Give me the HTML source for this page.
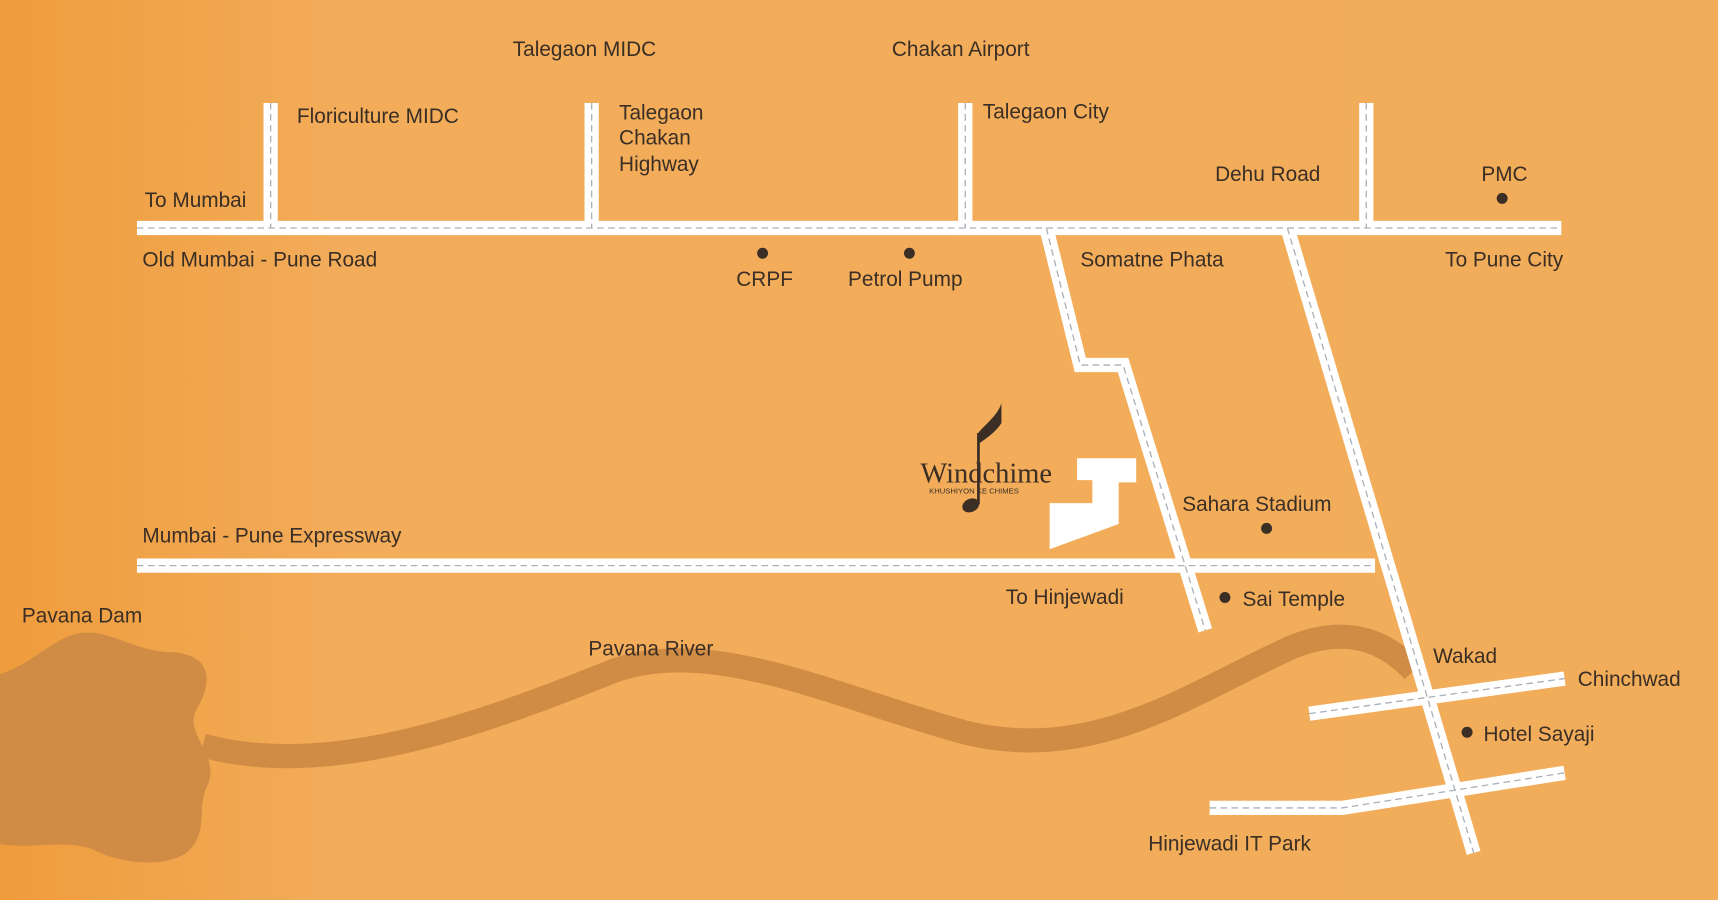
<!DOCTYPE html>
<html><head><meta charset="utf-8"><style>
html,body{margin:0;padding:0;width:1718px;height:900px;overflow:hidden;background:#F2AC5A}
svg{display:block}
text{font-family:"Liberation Sans",sans-serif;font-size:19px;fill:#3a2e25}
</style></head><body>
<svg width="1718" height="900" viewBox="0 0 1568 821" preserveAspectRatio="none">
<defs>
<linearGradient id="bg" x1="0" y1="0" x2="1" y2="0">
<stop offset="0" stop-color="#EF9C3C"/><stop offset="0.2" stop-color="#F2AC5A"/><stop offset="1" stop-color="#F2AD5B"/>
</linearGradient>
</defs>
<rect width="1568" height="821" fill="url(#bg)"/>
<path d="M185,680 C300,712 440,660 560,612 C650,580 760,635 880,668 C1000,698 1090,630 1180,590 C1230,570 1265,585 1290,612" fill="none" stroke="#D08C45" stroke-width="22"/>
<path d="M0,615 C30,605 45,585 70,578 C100,572 120,595 160,595 C200,600 190,630 178,650 C170,670 200,690 190,715 C178,738 192,760 170,778 C150,792 110,788 85,775 C60,765 30,775 0,770 Z" fill="#D08C45"/>
<g fill="none" stroke-linejoin="miter">
<g stroke="#fff" stroke-width="13">
<path d="M125,208 H1425"/>
<path d="M247,94 V208 M540,94 V208 M881,94 V208 M1247,94 V208"/>
<path d="M955,208 L986,333 L1025,333 L1100,575"/>
<path d="M1175,208 L1345,778"/>
<path d="M125,516 H1255"/>
<path d="M1195,651 L1428,619"/>
<path d="M1104,737 L1225,737 L1428,705"/>
</g>
<g stroke="#a9b0b8" stroke-width="1.2" stroke-dasharray="6,4">
<path d="M125,208 H1425"/>
<path d="M247,94 V208 M540,94 V208 M881,94 V208 M1247,94 V208"/>
<path d="M955,208 L986,333 L1025,333 L1100,575"/>
<path d="M1175,208 L1345,778"/>
<path d="M125,516 H1255"/>
<path d="M1195,651 L1428,619"/>
<path d="M1104,737 L1225,737 L1428,705"/>
</g>
</g>
<polygon points="983,418 1037,418 1037,440 1021,440 1021,478 958,501 958,459 997,459 997,438 983,438" fill="#fff"/>
<ellipse cx="886" cy="461" rx="8" ry="6" fill="#3a2e25" transform="rotate(-25 886 461)"/>
<path d="M893,460 V395" stroke="#3a2e25" stroke-width="2.5"/>
<path d="M893,395 C898,388 910,380 914,368 L914,386 C908,395 900,400 893,405 Z" fill="#3a2e25"/>
<text x="840" y="440" style="font-family:'Liberation Serif',serif;font-size:26px">Windchime</text>
<text x="848" y="450" style="font-size:7px">KHUSHIYON  KE CHIMES</text>
<g fill="#3a2e25">
<circle cx="696" cy="231" r="5"/><circle cx="830" cy="231" r="5"/><circle cx="1371" cy="181" r="5"/>
<circle cx="1156" cy="482" r="5"/><circle cx="1118" cy="545" r="5"/><circle cx="1339" cy="668" r="5"/>
</g>
<text x="468" y="51">Talegaon MIDC</text>
<text x="814" y="51">Chakan Airport</text>
<text x="271" y="112">Floriculture MIDC</text>
<text x="565" y="109">Talegaon</text>
<text x="565" y="132">Chakan</text>
<text x="565" y="156">Highway</text>
<text x="897" y="108">Talegaon City</text>
<text x="1109" y="165">Dehu Road</text>
<text x="1352" y="165">PMC</text>
<text x="132" y="189">To Mumbai</text>
<text x="130" y="243">Old Mumbai - Pune Road</text>
<text x="672" y="261">CRPF</text>
<text x="774" y="261">Petrol Pump</text>
<text x="986" y="243">Somatne Phata</text>
<text x="1319" y="243">To Pune City</text>
<text x="1079" y="466">Sahara Stadium</text>
<text x="130" y="495">Mumbai - Pune Expressway</text>
<text x="918" y="551">To Hinjewadi</text>
<text x="1134" y="553">Sai Temple</text>
<text x="20" y="568">Pavana Dam</text>
<text x="537" y="598">Pavana River</text>
<text x="1308" y="605">Wakad</text>
<text x="1440" y="626">Chinchwad</text>
<text x="1354" y="676">Hotel Sayaji</text>
<text x="1048" y="776">Hinjewadi IT Park</text>
</svg>
</body></html>
